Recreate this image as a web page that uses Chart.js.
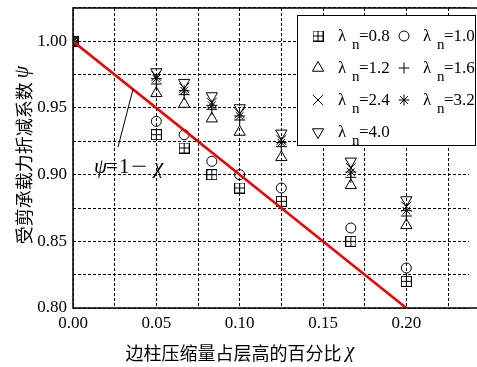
<!DOCTYPE html>
<html lang="zh">
<head>
    <meta charset="UTF-8">
    <title>受剪承载力折减系数</title>
    <script src="https://cdn.jsdelivr.net/npm/chart.js"></script>
    <style>
        html, body { margin: 0; padding: 0; background: #fff; }
        .chart-box { width: 477px; height: 367px; }
    </style>
</head>
<body>
<div class="chart-box"><canvas id="psiChart"></canvas></div>
<script>
    // x: 边柱压缩量占层高的百分比
    const xValues = [0, 0.05, 0.0667, 0.0833, 0.10, 0.125, 0.1667, 0.20];
    // psi for each lambda_n
    const lambda08 = [1.00, 0.930, 0.920, 0.900, 0.890, 0.880, 0.850, 0.820];
    const lambda10 = [1.00, 0.940, 0.930, 0.910, 0.900, 0.890, 0.860, 0.830];
    const lambda12 = [1.00, 0.961, 0.953, 0.942, 0.932, 0.913, 0.892, 0.862];
    const lambda16 = [1.00, 0.968, 0.960, 0.949, 0.941, 0.921, 0.898, 0.869];
    const lambda24 = [1.00, 0.974, 0.965, 0.954, 0.946, 0.926, 0.905, 0.876];
    const lambda32 = [1.00, 0.972, 0.963, 0.952, 0.944, 0.924, 0.902, 0.873];
    const lambda40 = [1.00, 0.977, 0.969, 0.959, 0.950, 0.931, 0.910, 0.881];
    const seriesLabels = ['0.8', '1.0', '1.2', '1.6', '2.4', '3.2', '4.0'];
    // psi = 1 - chi
    const lineX = [0, 0.20];
    const lineY = [1.00, 0.80];
    const xTickLabels = ['0.00', '0.05', '0.10', '0.15', '0.20'];
    const yTickLabels = ['0.80', '0.85', '0.90', '0.95', '1.00'];

    const serif = '"Liberation Serif", "DejaVu Serif", serif';
    const cjk = '"Noto Sans CJK SC", sans-serif';

    // square with a cross inside
    function makeBoxPlus(size) {
        const c = document.createElement('canvas');
        c.width = size; c.height = size;
        const g = c.getContext('2d');
        g.strokeStyle = '#000';
        g.lineWidth = 1;
        g.strokeRect(0.5, 0.5, size - 1, size - 1);
        g.beginPath();
        g.moveTo(size / 2, 0.5); g.lineTo(size / 2, size - 0.5);
        g.moveTo(0.5, size / 2); g.lineTo(size - 0.5, size / 2);
        g.stroke();
        return c;
    }
    const boxPlus = makeBoxPlus(11);

    const markers = [
        { style: boxPlus, radius: 5, rotation: 0 },
        { style: 'circle', radius: 5, rotation: 0 },
        { style: 'triangle', radius: 6.5, rotation: 0 },
        { style: 'cross', radius: 5.5, rotation: 0 },
        { style: 'crossRot', radius: 7, rotation: 0 },
        { style: 'star', radius: 5.5, rotation: 0 },
        { style: 'triangle', radius: 6.5, rotation: 180 }
    ];
    const allSeries = [lambda08, lambda10, lambda12, lambda16, lambda24, lambda32, lambda40];

    const datasets = [{
        label: 'psi = 1 - chi',
        data: lineX.map((x, i) => ({ x: x, y: lineY[i] })),
        showLine: true,
        borderColor: '#ee0000',
        borderWidth: 2.5,
        pointRadius: 0
    }];
    allSeries.forEach((vals, k) => {
        datasets.push({
            label: 'λn=' + seriesLabels[k],
            data: xValues.map((x, i) => ({ x: x, y: vals[i] })),
            showLine: false,
            pointStyle: markers[k].style,
            pointRadius: markers[k].radius,
            pointRotation: markers[k].rotation,
            pointBorderColor: '#000',
            pointBackgroundColor: 'rgba(0,0,0,0)',
            pointBorderWidth: 1
        });
    });

    function isMajor(v) {
        return Math.round(v * 1000) % 50 === 0;
    }

    // frame, annotation, legend and axis titles
    const decorPlugin = {
        id: 'decor',
        afterDraw(chart) {
            const ctx = chart.ctx;
            const a = chart.chartArea;
            const xs = chart.scales.x, ys = chart.scales.y;
            ctx.save();

            // frame (no right edge visible)
            ctx.strokeStyle = '#000';
            ctx.lineWidth = 1.5;
            ctx.beginPath();
            ctx.moveTo(chart.width, a.top);
            ctx.lineTo(a.left, a.top);
            ctx.lineTo(a.left, a.bottom);
            ctx.lineTo(chart.width, a.bottom);
            ctx.stroke();

            // annotation psi = 1 - chi
            ctx.lineWidth = 1;
            ctx.beginPath();
            ctx.moveTo(118, 147);
            ctx.lineTo(xs.getPixelForValue(0.036), ys.getPixelForValue(0.964));
            ctx.stroke();
            ctx.fillStyle = '#000';
            ctx.textBaseline = 'alphabetic';
            ctx.textAlign = 'left';
            ctx.font = 'italic 21px ' + serif;
            ctx.fillText('ψ', 94, 173);
            ctx.font = '21px ' + serif;
            ctx.fillText('=', 106, 173);
            ctx.fillText('1', 119, 173);
            ctx.save();
            ctx.translate(131, 173);
            ctx.scale(1.35, 1);
            ctx.fillText('−', 0, 0);
            ctx.restore();
            ctx.font = 'italic 21px ' + serif;
            ctx.fillText('χ', 154, 173);

            // legend
            const lx = 297, ly = 15, lw = 179, lh = 131;
            ctx.fillStyle = '#fff';
            ctx.fillRect(lx, ly, lw, lh);
            ctx.strokeStyle = '#000';
            ctx.lineWidth = 1;
            ctx.strokeRect(lx + 0.5, ly + 0.5, lw - 1, lh - 1);
            const colSym = [318, 404], colTxt = [338, 423];
            const rowY = [36, 68, 100, 132];
            for (let k = 0; k < seriesLabels.length; k++) {
                const c = k % 2, r = Math.floor(k / 2);
                const sx = colSym[c], sy = rowY[r];
                ctx.strokeStyle = '#000';
                ctx.fillStyle = 'rgba(0,0,0,0)';
                ctx.lineWidth = 1;
                Chart.helpers.drawPoint(ctx, {
                    pointStyle: markers[k].style,
                    radius: markers[k].radius,
                    rotation: markers[k].rotation,
                    borderWidth: 1
                }, sx, sy);
                ctx.fillStyle = '#000';
                ctx.font = '17px ' + serif;
                ctx.fillText('λ', colTxt[c], sy + 5);
                ctx.font = '15px ' + serif;
                ctx.fillText('n', colTxt[c] + 14, sy + 13);
                ctx.font = '17px ' + serif;
                ctx.fillText('=' + seriesLabels[k], colTxt[c] + 21, sy + 5);
            }

            // x title
            ctx.fillStyle = '#000';
            ctx.textBaseline = 'middle';
            const xt = '边柱压缩量占层高的百分比';
            ctx.font = '18px ' + cjk;
            const w1 = ctx.measureText(xt + ' ').width;
            ctx.font = 'italic 20px ' + serif;
            const w2 = ctx.measureText('χ').width;
            let x0 = 240 - (w1 + w2) / 2;
            ctx.font = '18px ' + cjk;
            ctx.fillText(xt, x0, 353);
            ctx.font = 'italic 20px ' + serif;
            ctx.fillText('χ', x0 + w1, 352);

            // y title
            ctx.translate(24, 155);
            ctx.rotate(-Math.PI / 2);
            const yt = '受剪承载力折减系数';
            ctx.font = '18px ' + cjk;
            const h1 = ctx.measureText(yt + ' ').width;
            ctx.font = 'italic 20px ' + serif;
            const h2 = ctx.measureText('ψ').width;
            const y0 = -(h1 + h2) / 2;
            ctx.font = '18px ' + cjk;
            ctx.fillText(yt, y0, 0);
            ctx.font = 'italic 20px ' + serif;
            ctx.fillText('ψ', y0 + h1, -1);

            ctx.restore();
        }
    };

    const ctx = document.getElementById('psiChart').getContext('2d');
    const psiChart = new Chart(ctx, {
        type: 'scatter',
        data: { datasets: datasets },
        options: {
            responsive: true,
            maintainAspectRatio: false,
            animation: false,
            events: [],
            layout: { padding: { top: 7, right: 0, left: 0, bottom: 0 } },
            plugins: {
                legend: { display: false },
                tooltip: { enabled: false }
            },
            scales: {
                x: {
                    type: 'linear',
                    min: 0,
                    max: 0.2376,
                    afterBuildTicks: (scale) => {
                        const t = [];
                        for (let i = 0; i <= 9; i++) t.push({ value: i * 0.025 });
                        scale.ticks = t;
                    },
                    afterFit: (scale) => {
                        scale.height = 59;
                        scale.paddingRight = 0;
                    },
                    grid: { color: '#000', lineWidth: 1, drawTicks: false },
                    border: { display: false, dash: [3, 2] },
                    ticks: {
                        autoSkip: false,
                        maxRotation: 0,
                        padding: 5,
                        color: '#000',
                        font: { family: serif, size: 17 },
                        callback: (v) => isMajor(v) ? xTickLabels[Math.round(v / 0.05)] : ''
                    }
                },
                y: {
                    type: 'linear',
                    min: 0.80,
                    max: 1.025,
                    afterBuildTicks: (scale) => {
                        const t = [];
                        for (let i = 0; i <= 9; i++) t.push({ value: 0.80 + i * 0.025 });
                        scale.ticks = t;
                    },
                    afterFit: (scale) => {
                        scale.width = 73;
                        scale.paddingTop = 0;
                        scale.paddingBottom = 0;
                    },
                    grid: { color: '#000', lineWidth: 1, drawTicks: false },
                    border: { display: false, dash: [3, 2] },
                    ticks: {
                        autoSkip: false,
                        padding: 6,
                        color: '#000',
                        font: { family: serif, size: 17 },
                        callback: (v) => isMajor(v) ? yTickLabels[Math.round((v - 0.80) / 0.05)] : ''
                    }
                }
            }
        },
        plugins: [decorPlugin]
    });
</script>
</body>
</html>
